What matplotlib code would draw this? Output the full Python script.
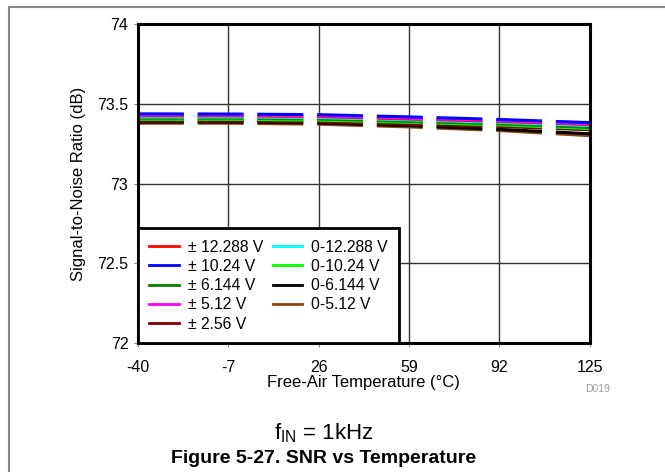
import matplotlib.pyplot as plt
from matplotlib.lines import Line2D

plt.rcParams['font.family'] = ['Liberation Sans', 'DejaVu Sans']
plt.rcParams['lines.scale_dashes'] = False

temps = [-40, -7, 26, 59, 92, 125]

labels = ['± 12.288 V', '± 10.24 V', '± 6.144 V', '± 5.12 V', '± 2.56 V',
          '0-12.288 V', '0-10.24 V', '0-6.144 V', '0-5.12 V']
colors = ['#ff0000', '#0000ff', '#008000', '#ff00ff', '#800000',
          '#00ffff', '#00ff00', '#000000', '#8b4513']

snr_bip_12 = [73.425, 73.425, 73.420, 73.405, 73.390, 73.370]
snr_bip_10 = [73.437, 73.436, 73.432, 73.418, 73.402, 73.382]
snr_bip_6 = [73.410, 73.410, 73.405, 73.390, 73.375, 73.352]
snr_bip_5 = [73.430, 73.430, 73.425, 73.410, 73.395, 73.374]
snr_bip_2 = [73.392, 73.392, 73.388, 73.373, 73.358, 73.337]
snr_uni_12 = [73.418, 73.418, 73.414, 73.400, 73.384, 73.364]
snr_uni_10 = [73.403, 73.403, 73.398, 73.384, 73.368, 73.345]
snr_uni_6 = [73.386, 73.386, 73.380, 73.363, 73.340, 73.312]
snr_uni_5 = [73.378, 73.378, 73.372, 73.355, 73.332, 73.300]

series = [snr_bip_12, snr_bip_10, snr_bip_6, snr_bip_5, snr_bip_2,
          snr_uni_12, snr_uni_10, snr_uni_6, snr_uni_5]
# draw order, bottom to top
order = [8, 7, 4, 6, 2, 5, 0, 3, 1]

fig = plt.figure(figsize=(6.65, 4.72), dpi=100)
ax = fig.add_axes([0.2075, 0.2733, 0.6795, 0.6757])

for i in order:
    ax.plot(temps, series[i], color=colors[i], linewidth=2.2,
            dashes=(33, 10), solid_capstyle='butt', dash_capstyle='butt')

ax.set_xlim(-40, 125)
ax.set_ylim(72, 74)
ax.set_xticks(temps)
ax.set_xticklabels([str(t) for t in temps])
ax.set_yticks([72, 72.5, 73, 73.5, 74])
ax.set_yticklabels(['72', '72.5', '73', '73.5', '74'])
ax.grid(True, color='#333333', linewidth=1.0)
ax.set_axisbelow(True)
for s in ax.spines.values():
    s.set_linewidth(2.2)
ax.tick_params(axis='both', labelsize=11.5, length=3, width=0.8,
               colors='#888888', labelcolor='black')
ax.tick_params(axis='y', pad=4)
ax.tick_params(axis='x', pad=9)

ax.set_xlabel('Free-Air Temperature (°C)', fontsize=12, labelpad=0)
ax.set_ylabel('Signal-to-Noise Ratio (dB)', fontsize=12, labelpad=8)

handles = [Line2D([], [], color=colors[i], linewidth=2) for i in range(len(labels))]
leg = ax.legend(handles, labels, loc='lower left', ncol=2, fontsize=11.3,
                frameon=True, fancybox=False, framealpha=1, borderaxespad=0,
                handlelength=1.9, handletextpad=0.55, columnspacing=0.6,
                labelspacing=0.27, borderpad=0.72)
leg.get_frame().set_edgecolor('black')
leg.get_frame().set_linewidth(2.0)

fig.text(0.899, 0.176, 'D019', fontsize=7.5, color='#999999',
         ha='center', va='center')
fig.text(0.487, 0.083, r'f$_{\mathregular{IN}}$ = 1kHz', fontsize=16,
         ha='center', va='center')
fig.text(0.487, 0.029, 'Figure 5-27. SNR vs Temperature', fontsize=14,
         fontweight='bold', ha='center', va='center')

# outer frame (top and left edges only)
fig.add_artist(Line2D([9 / 665, 1.0], [1 - 6.5 / 472, 1 - 6.5 / 472],
                      transform=fig.transFigure, color='#888888', linewidth=1.5))
fig.add_artist(Line2D([9 / 665, 9 / 665], [0.0, 1 - 6.5 / 472],
                      transform=fig.transFigure, color='#888888', linewidth=1.5))

fig.savefig('out.png', dpi=100)
